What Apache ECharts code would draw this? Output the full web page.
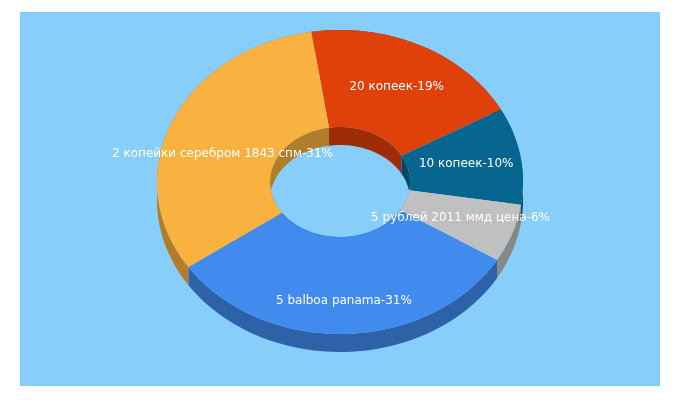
<!DOCTYPE html>
<html><head><meta charset="utf-8">
<script src="https://cdn.jsdelivr.net/npm/echarts@6/dist/echarts.min.js"></script>
<style>html,body{margin:0;padding:0;background:#fff}#c{width:680px;height:400px}</style>
</head><body><div id="c"></div>
<script>
const labels = ['20 копеек','10 копеек','5 рублей 2011 ммд цена','5 balboa panama','2 копейки серебром 1843 спм'];
const values = [19,10,6,31,31];
const colors = ['#E0400A','#06668F','#C0C0C0','#418BEF','#F9B13F'];
const wallColors = ['#9E2D07','#044866','#878787','#2E62A8','#B07D2C'];

const cx=340, cy=182, rx=183, ry=152, irx=70, iry=55, depth=18, start=-9;
const total = values.reduce((a,b)=>a+b,0);
const ang=[]; let acc=start;
values.forEach(v=>{const s=acc; acc+=v/total*360; ang.push([s,acc]);});
function pt(t,ax,ay,dy){const r=t*Math.PI/180;return [cx+ax*Math.sin(r), cy-ay*Math.cos(r)+(dy||0)];}
function arc(a,b,ax,ay,dy){const p=[];const n=Math.max(4,Math.ceil(Math.abs(b-a)/2));for(let i=0;i<=n;i++)p.push(pt(a+(b-a)*i/n,ax,ay,dy));return p;}

const data = values.map((v,i)=>[i,v]);
const chart = echarts.init(document.getElementById('c'));
chart.setOption({
  backgroundColor:'#fff',
  graphic:[{type:'rect',shape:{x:20,y:12,width:640,height:374},style:{fill:'#87CEFA'},z:-10}],
  xAxis:{show:false},yAxis:{show:false},
  series:[
  {type:'custom',coordinateSystem:'none',z:1,data:data,
   renderItem:(p,api)=>{const i=api.value(0);const [a,b]=ang[i];
     const top=arc(a,b,rx,ry,0), bot=arc(a,b,rx,ry,depth).reverse();
     const itop=arc(a,b,irx,iry,0), ibot=arc(a,b,irx,iry,depth).reverse();
     return {type:'group',children:[
       {type:'polygon',shape:{points:itop.concat(ibot)},style:{fill:wallColors[i]}},
       {type:'polygon',shape:{points:top.concat(bot)},style:{fill:wallColors[i]}}
     ]};}},
  {type:'custom',coordinateSystem:'none',z:2,data:data,
   renderItem:(p,api)=>{const i=api.value(0);const [a,b]=ang[i];
     const pts=arc(a,b,rx,ry,0).concat(arc(a,b,irx,iry,0).reverse());
     const m=(a+b)/2; let lp=pt(m,rx*0.7,ry*0.7,0);
     if(i===3) lp=pt(m,rx*0.78,ry*0.78,0);
     if(i===4) lp=[lp[0],lp[1]+14];
     return {type:'group',children:[
       {type:'polygon',shape:{points:pts},style:{fill:colors[i]}},
       {type:'text',x:lp[0],y:lp[1],z2:10,style:{text:labels[i]+'-'+api.value(1)+'%',fill:'#fff',
         font:'12px "DejaVu Sans", sans-serif',align:'center',verticalAlign:'middle'}}
     ]};}}
  ]
});
</script></body></html>
